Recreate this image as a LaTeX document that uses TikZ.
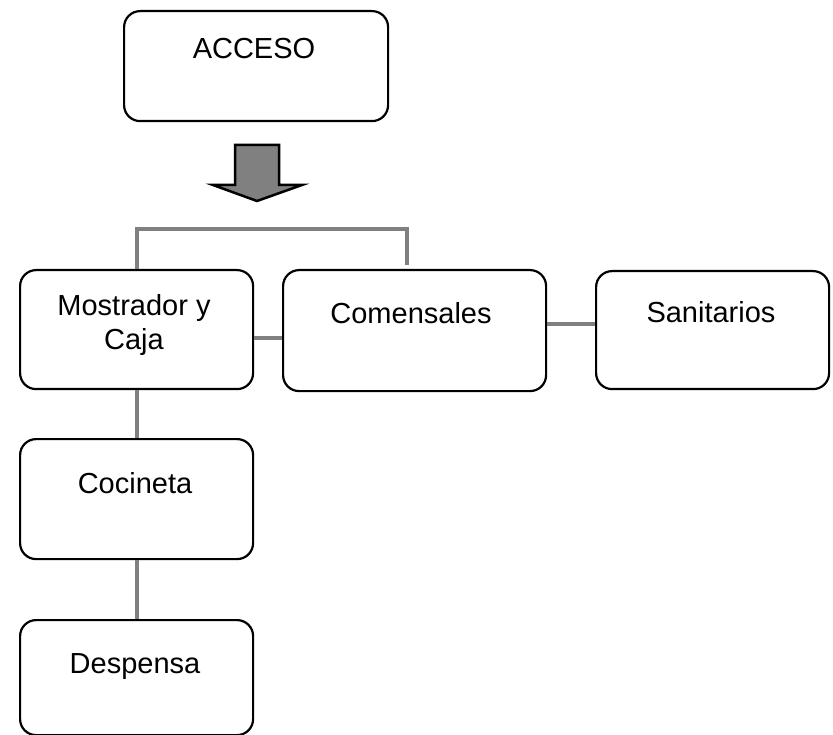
\documentclass[tikz,border=0pt]{standalone}
\usepackage{fontspec}
\setmainfont{Liberation Sans}
\definecolor{conngray}{RGB}{128,128,128}
\begin{document}
\begin{tikzpicture}[x=1pt,y=-1pt,
  box/.style={draw=black,line width=2.2pt,rounded corners=16pt,inner sep=0pt,anchor=north west},
  lbl/.style={font=\fontsize{29}{35}\selectfont,align=center,inner sep=0pt,anchor=base},
  conn/.style={draw=conngray,line width=4pt}]
\useasboundingbox (0,0) rectangle (833,735);
% boxes
\node[box,minimum width=264pt,minimum height=110pt] (acc) at (123,10) {};
\node[box,minimum width=233pt,minimum height=119pt] (mos) at (19,269) {};
\node[box,minimum width=263pt,minimum height=121pt] (com) at (282,269) {};
\node[box,minimum width=233pt,minimum height=118pt] (san) at (595,270) {};
\node[box,minimum width=233pt,minimum height=120pt] (coc) at (19,438) {};
\node[box,minimum width=233pt,minimum height=115pt] (des) at (19,619) {};
% labels
\node[lbl] (tacc) at (254,59) {ACCESO};
\node[lbl] (tmos) at (134,350) {Mostrador y\\Caja};
\node[lbl] (tcom) at (411,324) {Comensales};
\node[lbl] (tsan) at (711,323) {Sanitarios};
\node[lbl] (tcoc) at (135,493) {Cocineta};
\node[lbl] (tdes) at (135,673) {Despensa};
% block arrow
\draw[line width=2.5pt,fill=conngray,line join=miter]
  (235,145) -- (279,145) -- (279,185) -- (302,185) -- (257,201) -- (213,185) -- (235,185) -- cycle;
% connectors
\coordinate (jt) at (407,229);
\coordinate (je) at (407,265);
\coordinate (mc) at (0,338);
\coordinate (cs) at (0,324);
\draw[conn] (mos.north) |- (jt) -- (je);
\draw[conn] (mos.east |- mc) -- (com.west |- mc);
\draw[conn] (com.east |- cs) -- (san.west |- cs);
\draw[conn] (mos.south) -- (coc.north);
\draw[conn] (coc.south) -- (des.north);
\end{tikzpicture}
\end{document}
